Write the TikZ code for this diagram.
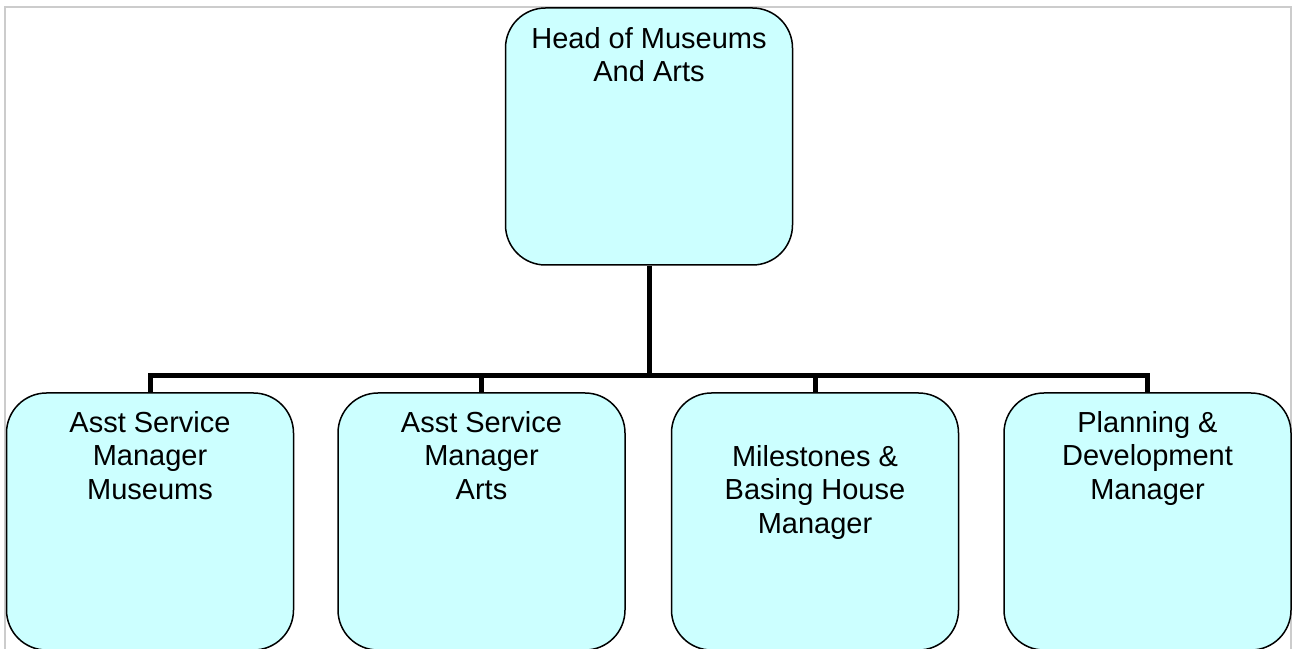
\documentclass[tikz,border=0pt]{standalone}
\usepackage{fontspec}
\setmainfont{Liberation Sans}
\usepackage{tikz}
\usetikzlibrary{positioning}

\definecolor{boxfill}{HTML}{CCFFFF}
\definecolor{framegray}{HTML}{CCCCCC}

\tikzset{
  orgbox/.style={draw=black, line width=1.5pt, fill=boxfill, rounded corners=40pt,
    minimum width=287pt, minimum height=257pt, inner sep=0pt},
  orgtext/.style={anchor=north, align=center, inner sep=0pt,
    font=\fontsize{29}{33.5}\selectfont, execute at begin node=\strut},
  conn/.style={line width=5pt, line join=miter}
}

\begin{document}
\begin{tikzpicture}[x=1pt, y=1pt]
    \useasboundingbox (0,0) rectangle (1293,648);
    % frame
    \draw[framegray, line width=1.5pt] (5,-5) -- (5,641) -- (1291,641) -- (1291,-5);
    % boxes
    \node[orgbox] (head) at (649,511.5) {};
    \node[orgbox] (mus)  at (150,126.5) {};
    \node[orgbox] (arts) at (481.5,126.5) {};
    \node[orgbox] (mile) at (815,126.5) {};
    \node[orgbox] (plan) at (1147.5,126.5) {};
    % texts
    \node[orgtext, below=20pt of head.north] (head-t) {Head of Museums\\And Arts};
    \node[orgtext, below=19pt of mus.north]  (mus-t)  {Asst Service\\Manager\\Museums};
    \node[orgtext, below=19pt of arts.north] (arts-t) {Asst Service\\Manager\\Arts};
    \node[orgtext, below=53pt of mile.north] (mile-t) {Milestones \&\\Basing House\\Manager};
    \node[orgtext, below=19pt of plan.north] (plan-t) {Planning \&\\Development\\Manager};
    % connectors
    \coordinate (bus) at (649,272);
    \draw[conn] (head.south) -- (bus);
    \draw[conn] (mus.north) |- (bus) -| (plan.north);
    \draw[conn] (arts.north) |- (bus);
    \draw[conn] (mile.north) |- (bus);
\end{tikzpicture}
\end{document}
